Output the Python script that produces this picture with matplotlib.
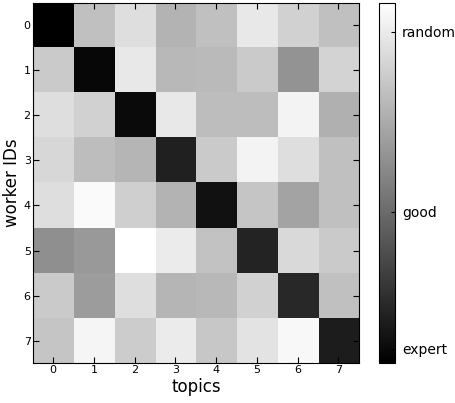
import numpy as np
import matplotlib
matplotlib.use("Agg")
import matplotlib.pyplot as plt

topics = ["0", "1", "2", "3", "4", "5", "6", "7"]
workers = ["0", "1", "2", "3", "4", "5", "6", "7"]
values = [
    [0.00, 0.75, 0.87, 0.70, 0.75, 0.91, 0.82, 0.75],
    [0.79, 0.03, 0.91, 0.72, 0.73, 0.79, 0.58, 0.83],
    [0.87, 0.82, 0.04, 0.91, 0.74, 0.74, 0.95, 0.69],
    [0.84, 0.74, 0.71, 0.13, 0.79, 0.95, 0.87, 0.75],
    [0.87, 0.98, 0.81, 0.70, 0.07, 0.77, 0.64, 0.75],
    [0.56, 0.60, 1.00, 0.92, 0.76, 0.14, 0.85, 0.79],
    [0.79, 0.61, 0.87, 0.71, 0.72, 0.82, 0.16, 0.75],
    [0.77, 0.96, 0.80, 0.92, 0.78, 0.89, 0.97, 0.11],
]
cbar_ticks = [0.04, 0.42, 0.92]
cbar_labels = ["expert", "good", "random"]

fig = plt.figure(figsize=(4.56, 4.03), dpi=100)
ax = fig.add_axes([0.072, 0.099, 0.715, 0.894])
im = ax.imshow(np.array(values), cmap="gray", vmin=0, vmax=1, aspect="auto",
               interpolation="nearest")
ax.set_xticks(range(len(topics)))
ax.set_xticklabels(topics, fontsize=8)
ax.set_yticks(range(len(workers)))
ax.set_yticklabels(workers, fontsize=8)
ax.tick_params(direction="in", top=True, right=True, length=4, color="black", pad=1.5)
ax.set_xlabel("topics", fontsize=12, labelpad=2)
ax.set_ylabel("worker IDs", fontsize=12, labelpad=2)

cax = fig.add_axes([0.831, 0.099, 0.035, 0.894])
cb = fig.colorbar(im, cax=cax)
cb.set_ticks(cbar_ticks)
cb.set_ticklabels(cbar_labels)
cb.ax.tick_params(direction="in", length=3, labelsize=10, pad=5)
cb.outline.set_linewidth(0.8)

fig.savefig("out.png", dpi=100)
